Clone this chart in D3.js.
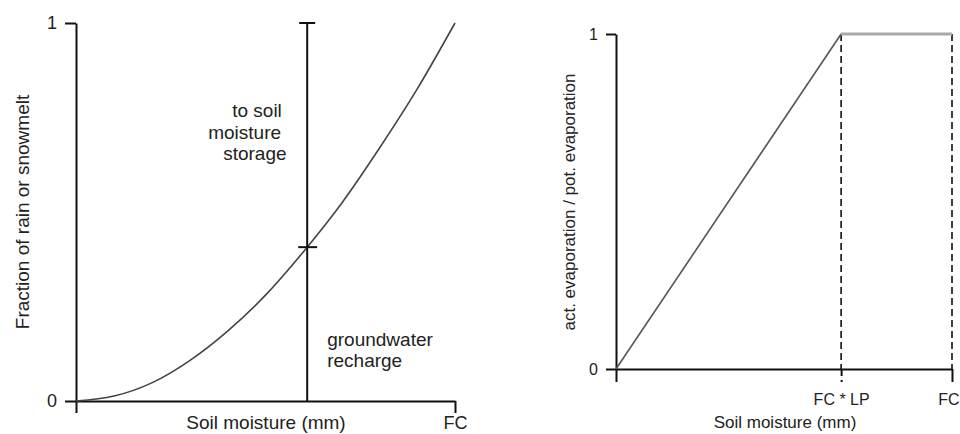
<!DOCTYPE html>
<html>
<head>
<meta charset="utf-8">
<script src="https://cdn.jsdelivr.net/npm/d3@7"></script>
<style>
  html, body { margin: 0; padding: 0; background: #fff; }
  svg { display: block; font-family: "Liberation Sans", Arial, Helvetica, sans-serif; }
  .axis path, .axis line { stroke: #111; stroke-width: 2; }
  .axis text { fill: #222; }
</style>
</head>
<body>
<svg id="chart" width="960" height="434"></svg>
<script>
// left panel: fraction of rain/snowmelt going to groundwater vs soil moisture
var curveX = [0, 0.1, 0.2, 0.3, 0.4, 0.5, 0.61, 0.7, 0.8, 0.9, 1];
var curveY = [0, 0.013, 0.048, 0.107, 0.185, 0.280, 0.407, 0.522, 0.668, 0.825, 1];
var splitX = 0.61, splitY = 0.407;
var leftXTicks = [0, 1], leftXLabels = ["", "FC"];
var leftYTicks = [0, 1], leftYLabels = ["0", "1"];

// right panel: act. / pot. evaporation vs soil moisture
var evapX = [0, 0.67, 1];
var evapY = [0, 1, 1];
var rightXTicks = [0, 0.67, 1], rightXLabels = ["", "FC * LP", "FC"];
var rightYTicks = [0, 1], rightYLabels = ["0", "1"];

var svg = d3.select("#chart");

function drawLeft() {
    var x = d3.scaleLinear().domain([0, 1]).range([76, 455]),
        y = d3.scaleLinear().domain([0, 1]).range([401, 23]),
        g = svg.append("g");

    g.append("g").attr("class", "axis")
        .attr("transform", "translate(0," + y(0) + ")")
        .call(d3.axisBottom(x).tickValues(leftXTicks).tickSize(12).tickSizeOuter(0).tickPadding(3)
            .tickFormat(function(d, i) { return leftXLabels[i]; }))
        .selectAll("text").style("font-size", "18px");

    g.append("g").attr("class", "axis")
        .attr("transform", "translate(" + x(0) + ",0)")
        .call(d3.axisLeft(y).tickValues(leftYTicks).tickSize(11).tickSizeOuter(0).tickPadding(8)
            .tickFormat(function(d, i) { return leftYLabels[i]; }))
        .selectAll("text").style("font-size", "18px");

    var line = d3.line()
        .x(function(d) { return x(d[0]); })
        .y(function(d) { return y(d[1]); })
        .curve(d3.curveMonotoneX);

    g.append("path")
        .datum(d3.zip(curveX, curveY))
        .attr("d", line)
        .attr("fill", "none")
        .attr("stroke", "#444")
        .attr("stroke-width", 1.6);

    // split marker
    var sx = x(splitX);
    g.append("line").attr("x1", sx).attr("x2", sx).attr("y1", y(0)).attr("y2", y(1))
        .attr("stroke", "#111").attr("stroke-width", 2);
    g.append("line").attr("x1", sx - 8).attr("x2", sx + 8).attr("y1", y(1)).attr("y2", y(1))
        .attr("stroke", "#111").attr("stroke-width", 2);
    g.append("line").attr("x1", sx - 9).attr("x2", sx + 10).attr("y1", y(splitY)).attr("y2", y(splitY))
        .attr("stroke", "#111").attr("stroke-width", 2);

    var ann = g.append("g").attr("fill", "#222").style("font-size", "19px");
    ann.append("text").attr("x", sx - 75).attr("y", 117).text("to soil");
    ann.append("text").attr("x", sx - 99).attr("y", 139).text("moisture");
    ann.append("text").attr("x", sx - 84).attr("y", 160).text("storage");
    ann.append("text").attr("x", sx + 20).attr("y", 346).text("groundwater");
    ann.append("text").attr("x", sx + 20).attr("y", 367).text("recharge");

    g.append("text")
        .attr("x", 266).attr("y", 429)
        .attr("text-anchor", "middle")
        .attr("fill", "#222").style("font-size", "19px")
        .text("Soil moisture (mm)");

    g.append("text")
        .attr("transform", "translate(29,212) rotate(-90)")
        .attr("text-anchor", "middle")
        .attr("fill", "#222").style("font-size", "19px")
        .text("Fraction of rain or snowmelt");
}

function drawRight() {
    var x = d3.scaleLinear().domain([0, 1]).range([616, 952]),
        y = d3.scaleLinear().domain([0, 1]).range([369, 34]),
        g = svg.append("g");

    // dashed guides
    g.selectAll("line.guide")
        .data(evapX.slice(1))
        .enter().append("line")
        .attr("class", "guide")
        .attr("x1", function(d) { return x(d); })
        .attr("x2", function(d) { return x(d); })
        .attr("y1", y(1))
        .attr("y2", y(0))
        .attr("stroke", "#111")
        .attr("stroke-width", 1.6)
        .attr("stroke-dasharray", "7,4");

    var xAxis = g.append("g").attr("class", "axis")
        .attr("transform", "translate(0," + y(0) + ")")
        .call(d3.axisBottom(x).tickValues(rightXTicks).tickSize(13).tickSizeOuter(0).tickPadding(12)
            .tickFormat(function(d, i) { return rightXLabels[i]; }));
    xAxis.selectAll("text").style("font-size", "16px");
    xAxis.selectAll(".tick line")
        .filter(function(d) { return d > 0 && d < 1; })
        .attr("stroke-width", 1.6)
        .attr("stroke-dasharray", "7,4");
    // last label sits against the right edge
    xAxis.selectAll(".tick text")
        .filter(function(d) { return d === 1; })
        .attr("text-anchor", "end")
        .attr("x", 7);

    g.append("g").attr("class", "axis")
        .attr("transform", "translate(" + x(0) + ",0)")
        .call(d3.axisLeft(y).tickValues(rightYTicks).tickSize(10).tickSizeOuter(0).tickPadding(8)
            .tickFormat(function(d, i) { return rightYLabels[i]; }))
        .selectAll("text").style("font-size", "16px");

    var pts = d3.zip(evapX, evapY);
    var line = d3.line()
        .x(function(d) { return x(d[0]); })
        .y(function(d) { return y(d[1]); });

    g.append("path")
        .datum(pts.slice(0, 2))
        .attr("d", line)
        .attr("fill", "none")
        .attr("stroke", "#555")
        .attr("stroke-width", 1.6);

    g.append("path")
        .datum(pts.slice(1))
        .attr("d", line)
        .attr("fill", "none")
        .attr("stroke", "#aaa")
        .attr("stroke-width", 3);

    g.append("text")
        .attr("x", 785).attr("y", 428)
        .attr("text-anchor", "middle")
        .attr("fill", "#222").style("font-size", "17px")
        .text("Soil moisture (mm)");

    g.append("text")
        .attr("transform", "translate(575,202) rotate(-90)")
        .attr("text-anchor", "middle")
        .attr("fill", "#222").style("font-size", "17px")
        .text("act. evaporation / pot. evaporation");
}

drawLeft();
drawRight();
</script>
</body>
</html>
